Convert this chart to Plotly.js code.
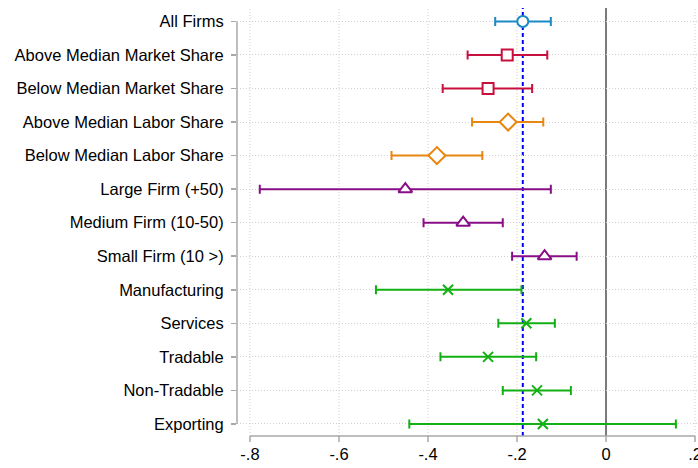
<!DOCTYPE html>
<html>
<head>
<meta charset="utf-8">
<script src="https://cdn.plot.ly/plotly-3.0.1.min.js"></script>
<style>html,body{margin:0;padding:0;background:#fff;}#chart{width:698px;height:468px;}</style>
</head>
<body>
<div id="chart"></div>
<script>
// ---- data ----
const categories = ["All Firms","Above Median Market Share","Below Median Market Share","Above Median Labor Share","Below Median Labor Share","Large Firm (+50)","Medium Firm (10-50)","Small Firm (10 >)","Manufacturing","Services","Tradable","Non-Tradable","Exporting"];
const estimates = [-0.187,-0.222,-0.265,-0.220,-0.380,-0.451,-0.321,-0.138,-0.355,-0.179,-0.265,-0.155,-0.142];
const ciLow  = [-0.249,-0.311,-0.367,-0.301,-0.482,-0.778,-0.410,-0.211,-0.517,-0.242,-0.372,-0.232,-0.442];
const ciHigh = [-0.124,-0.132,-0.166,-0.141,-0.278,-0.124,-0.232,-0.066,-0.190,-0.115,-0.157,-0.079,0.157];
const groupOf = [0,1,1,2,2,3,3,3,4,4,4,4,4];
const referenceLine = -0.187;
const xTickVals = [-0.8,-0.6,-0.4,-0.2,0,0.2];
const xTickText = ["-.8","-.6","-.4","-.2","0",".2"];

// ---- styles ----
const groupStyles = [
  {color:"#1a8ac6", symbol:"circle", size:11},
  {color:"#c8103e", symbol:"square", size:11},
  {color:"#e8860f", symbol:"diamond", size:13},
  {color:"#880e88", symbol:"triangle-up", size:12},
  {color:"#12b012", symbol:"x-thin", size:10}
];

const traces = groupStyles.map((st, g) => {
  const idx = categories.map((c,i)=>i).filter(i => groupOf[i] === g);
  const isX = st.symbol === "x-thin";
  return {
    type: "scatter", mode: "markers",
    x: idx.map(i => estimates[i]),
    y: idx,
    error_x: {
      type: "data", symmetric: false,
      array: idx.map(i => ciHigh[i] - estimates[i]),
      arrayminus: idx.map(i => estimates[i] - ciLow[i]),
      color: st.color, thickness: 2, width: 4.5
    },
    marker: {
      symbol: st.symbol, size: st.size,
      color: isX ? st.color : "#ffffff",
      line: {color: st.color, width: 2}
    },
    hoverinfo: "skip", showlegend: false
  };
});

const font = {family: "Liberation Sans, Arial, sans-serif", size: 16.5, color: "#000"};
const gridCol = "#d0d0d0";
const gridDash = "1px,2px";
const axisCol = "#a8a8a8";

// vertical gridlines and x ticks as shapes (so the ones at the right edge are drawn too)
const gridShapes = xTickVals.map(v => ({type:"line", xref:"x", yref:"paper", x0:v, x1:v, y0:0, y1:1, line:{color:gridCol, width:1, dash:gridDash}, layer:"below"}));
const tickShapes = xTickVals.map(v => ({type:"line", xref:"x", yref:"paper", ysizemode:"pixel", yanchor:0, x0:v, x1:v, y0:0, y1:-6, line:{color:axisCol, width:1.5}}));

const layout = {
  width: 698, height: 468,
  margin: {l: 237, r: 0, t: 8, b: 32},
  paper_bgcolor: "#fff", plot_bgcolor: "#fff",
  font: font,
  showlegend: false,
  xaxis: {
    range: [-0.8292, 0.2067],
    tickvals: xTickVals, ticktext: xTickText,
    ticks: "", ticklen: 6,
    ticklabeloverflow: "allow",
    ticklabelstandoff: 6,
    showgrid: false,
    zeroline: false, showline: false,
    tickfont: font
  },
  yaxis: {
    range: [12.36, -0.40],
    tickvals: categories.map((c,i)=>i), ticktext: categories,
    ticks: "outside", ticklen: 5, tickcolor: axisCol, tickwidth: 1.5,
    ticklabelstandoff: 4,
    showgrid: true, gridcolor: gridCol, griddash: gridDash, gridwidth: 1,
    zeroline: false, showline: false,
    tickfont: font
  },
  shapes: gridShapes.concat(tickShapes).concat([
    {type:"line", xref:"x", yref:"paper", x0:0, x1:0, y0:0, y1:1, line:{color:"#7a7a7a", width:2}, layer:"below"},
    {type:"line", xref:"x", yref:"paper", x0:referenceLine, x1:referenceLine, y0:0, y1:1, line:{color:"#0000ff", width:2, dash:"4px,3px"}, layer:"below"},
    {type:"line", xref:"x", yref:"paper", x0:xTickVals[0], x1:xTickVals[xTickVals.length-1], y0:0, y1:0, line:{color:axisCol, width:1.5}},
    {type:"line", xref:"paper", yref:"y", x0:0, x1:0, y0:0, y1:categories.length-1, line:{color:axisCol, width:1.5}}
  ])
};

Plotly.newPlot("chart", traces, layout, {staticPlot: true, displayModeBar: false});
</script>
</body>
</html>
